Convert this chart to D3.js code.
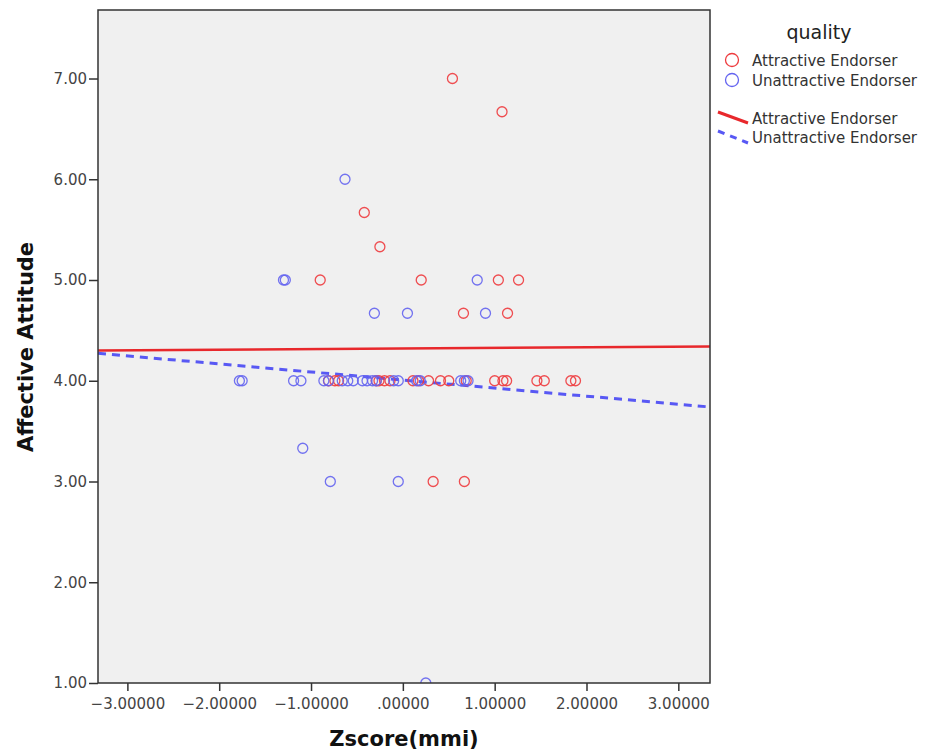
<!DOCTYPE html>
<html>
<head>
<meta charset="utf-8">
<script src="https://d3js.org/d3.v7.min.js"></script>
<style>
  body { margin: 0; background: #fff; }
  text { font-family: "DejaVu Sans", sans-serif; }
</style>
</head>
<body>
<div id="chart"></div>
<script>
// Attractive endorser scores (z mmi, affective attitude)
const attrX = [0.54, 1.08, -0.42, -0.25, -0.90, 0.20, 1.04, 1.26, 0.66, 1.14, 0.33, 0.67,
  -0.81, -0.74, -0.70, -0.29, -0.26, -0.20, -0.14, 0.11, 0.17, 0.28, 0.41, 0.50, 0.69,
  1.00, 1.09, 1.13, 1.46, 1.54, 1.83, 1.88];
const attrY = [7.00, 6.67, 5.67, 5.33, 5.00, 5.00, 5.00, 5.00, 4.67, 4.67, 3.00, 3.00,
  4, 4, 4, 4, 4, 4, 4, 4, 4, 4, 4, 4, 4, 4, 4, 4, 4, 4, 4, 4];

// Unattractive endorser
const unatX = [-0.63, -1.30, -1.28, 0.81, -0.31, 0.05, 0.90, -1.09, -0.79, -0.05, 0.25,
  -1.78, -1.75, -1.19, -1.11, -0.86, -0.81, -0.66, -0.60, -0.54, -0.44, -0.39, -0.33,
  -0.29, -0.10, -0.05, 0.15, 0.19, 0.63, 0.67, 0.71];
const unatY = [6.00, 5.00, 5.00, 5.00, 4.67, 4.67, 4.67, 3.33, 3.00, 3.00, 1.00,
  4, 4, 4, 4, 4, 4, 4, 4, 4, 4, 4, 4, 4, 4, 4, 4, 4, 4, 4, 4];

// fit lines: [intercept, slope]
const attrFit = [4.32, 0.006];
const unatFit = [4.007, -0.080];

const xTicks = [-3, -2, -1, 0, 1, 2, 3];
const yTicks = [1, 2, 3, 4, 5, 6, 7];
const groups = ["Attractive Endorser", "Unattractive Endorser"];

const width = 929, height = 752;
const pL = 98, pR = 710, pT = 10, pB = 683;
const xMin = -3.32, xMax = 3.345;
const red = "#ee3b3e", blue = "#6464f0";
const redLine = "#e8282c", blueLine = "#5858f4";

const svg = d3.select("#chart").append("svg")
  .attr("width", width).attr("height", height);

const x = d3.scaleLinear().domain([xMin, xMax]).range([pL, pR]);
const y = d3.scaleLinear().domain([1, 7.68]).range([pB, pT]);

svg.append("defs").append("clipPath").attr("id", "plot")
  .append("rect").attr("x", pL).attr("y", pT)
  .attr("width", pR - pL).attr("height", pB - pT);

svg.append("rect")
  .attr("x", pL).attr("y", pT)
  .attr("width", pR - pL).attr("height", pB - pT)
  .attr("fill", "#f0f0f0");

const plot = svg.append("g").attr("clip-path", "url(#plot)");

// fit lines
const fitLine = (f) => [[xMin, f[0] + f[1] * xMin], [xMax, f[0] + f[1] * xMax]];
const line = d3.line().x(d => x(d[0])).y(d => y(d[1]));
plot.append("path").attr("d", line(fitLine(attrFit)))
  .attr("stroke", redLine).attr("stroke-width", 2.6).attr("fill", "none");
plot.append("path").attr("d", line(fitLine(unatFit)))
  .attr("stroke", blueLine).attr("stroke-width", 3).attr("fill", "none")
  .attr("stroke-dasharray", "8,6");

// points
function drawPts(xs, ys, col) {
  plot.append("g").selectAll("circle")
    .data(xs.map((v, i) => [v, ys[i]]))
    .join("circle")
    .attr("cx", d => x(d[0])).attr("cy", d => y(d[1]))
    .attr("r", 5)
    .attr("fill", "none").attr("stroke", col).attr("stroke-width", 1.3)
    .attr("stroke-opacity", 0.9);
}
drawPts(attrX, attrY, red);
drawPts(unatX, unatY, blue);

// frame
svg.append("rect")
  .attr("x", pL).attr("y", pT)
  .attr("width", pR - pL).attr("height", pB - pT)
  .attr("fill", "none").attr("stroke", "#333").attr("stroke-width", 1.5);

// axes
const xAxis = svg.append("g").attr("transform", `translate(0,${pB})`)
  .call(d3.axisBottom(x).tickValues(xTicks).tickSize(8).tickSizeOuter(0)
    .tickFormat(d => d === 0 ? ".00000" : d3.format(".5f")(d).replace("-", "\u2212")));
const yAxis = svg.append("g").attr("transform", `translate(${pL},0)`)
  .call(d3.axisLeft(y).tickValues(yTicks).tickSize(9).tickSizeOuter(0)
    .tickFormat(d3.format(".2f")));
[xAxis, yAxis].forEach(a => {
  a.select(".domain").remove();
  a.selectAll(".tick line").attr("stroke", "#333").attr("stroke-width", 1.5);
  a.selectAll(".tick text").attr("fill", "#444").style("font-size", "15px");
});
xAxis.selectAll(".tick text").attr("dy", "1.0em");
yAxis.selectAll(".tick text").attr("dx", "1px");

svg.append("text").attr("x", 404).attr("y", 746)
  .attr("text-anchor", "middle").attr("font-weight", "bold")
  .style("font-size", "21px").attr("fill", "#111").text("Zscore(mmi)");
svg.append("text")
  .attr("transform", "translate(33,347) rotate(-90)")
  .attr("text-anchor", "middle").attr("font-weight", "bold")
  .style("font-size", "21px").attr("fill", "#111").text("Affective Attitude");

// legend
const lg = svg.append("g");
lg.append("text").attr("x", 819).attr("y", 39).attr("text-anchor", "middle")
  .style("font-size", "19px").attr("fill", "#222").text("quality");
[red, blue].forEach((c, i) => {
  lg.append("circle").attr("cx", 732).attr("cy", 60 + i * 20).attr("r", 6.5)
    .attr("fill", "none").attr("stroke", c).attr("stroke-width", 1.3);
  lg.append("text").attr("x", 752).attr("y", 65.5 + i * 20)
    .style("font-size", "15px").attr("fill", "#333").text(groups[i]);
});
lg.append("line").attr("x1", 718).attr("y1", 112).attr("x2", 748).attr("y2", 123)
  .attr("stroke", redLine).attr("stroke-width", 3);
lg.append("line").attr("x1", 718).attr("y1", 131).attr("x2", 748).attr("y2", 143)
  .attr("stroke", blueLine).attr("stroke-width", 3).attr("stroke-dasharray", "7,6");
groups.forEach((g, i) => {
  lg.append("text").attr("x", 752).attr("y", 123.5 + i * 19.5)
    .style("font-size", "15px").attr("fill", "#333").text(g);
});
</script>
</body>
</html>
